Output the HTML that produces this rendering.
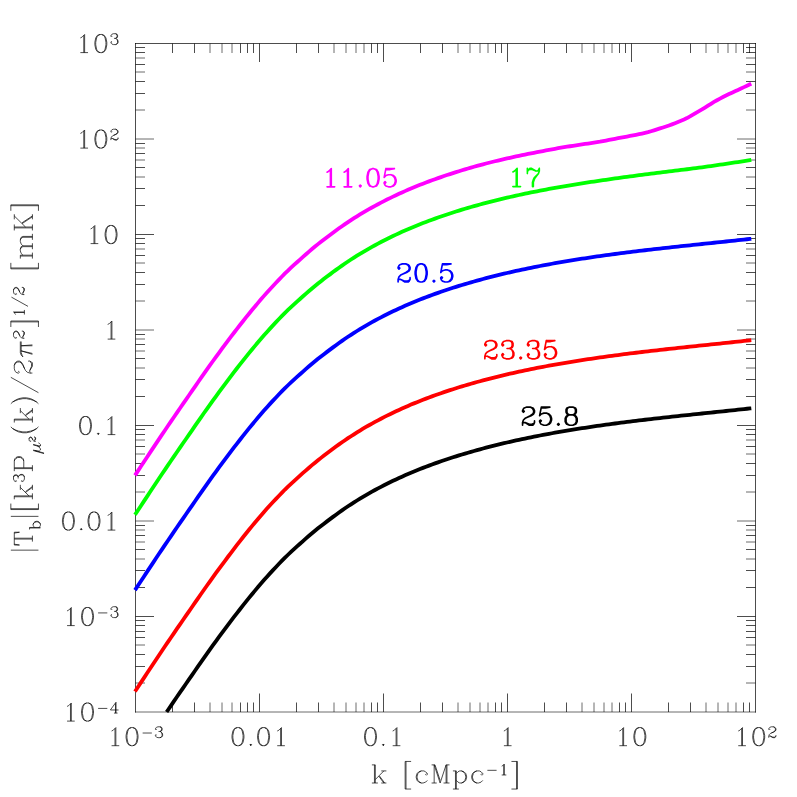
<!DOCTYPE html>
<html><head><meta charset="utf-8"><title>plot</title>
<style>html,body{margin:0;padding:0;background:#fff;font-family:"Liberation Sans",sans-serif}body{width:797px;height:797px;position:relative;overflow:hidden}</style></head>
<body>
<svg width="797" height="797" viewBox="0 0 797 797" style="position:absolute;left:0;top:0">
<rect width="797" height="797" fill="#fff"/>
<path d="M135 43.5 H756 M135.5 43 V712.5 M755.5 43 V712.5 M172.5 43.5 V53 M172.5 712 V702.5 M194.5 43.5 V53 M194.5 712 V702.5 M240.5 43.5 V53 M240.5 712 V702.5 M247.5 43.5 V53 M247.5 712 V702.5 M253.5 43.5 V53 M253.5 712 V702.5 M259.5 43.5 V62 M259.5 712 V693.5 M296.5 43.5 V53 M296.5 712 V702.5 M318.5 43.5 V53 M318.5 712 V702.5 M371.5 43.5 V53 M371.5 712 V702.5 M377.5 43.5 V53 M377.5 712 V702.5 M383.5 43.5 V62 M383.5 712 V693.5 M420.5 43.5 V53 M420.5 712 V702.5 M442.5 43.5 V53 M442.5 712 V702.5 M495.5 43.5 V53 M495.5 712 V702.5 M501.5 43.5 V53 M501.5 712 V702.5 M507.5 43.5 V62 M507.5 712 V693.5 M544.5 43.5 V53 M544.5 712 V702.5 M566.5 43.5 V53 M566.5 712 V702.5 M619.5 43.5 V53 M619.5 712 V702.5 M625.5 43.5 V53 M625.5 712 V702.5 M631.5 43.5 V62 M631.5 712 V693.5 M668.5 43.5 V53 M668.5 712 V702.5 M690.5 43.5 V53 M690.5 712 V702.5 M743.5 43.5 V53 M743.5 712 V702.5 M749.5 43.5 V53 M749.5 712 V702.5 M135.5 47.5 H145 M755.5 47.5 H746 M135.5 52.5 H145 M755.5 52.5 H746 M135.5 64.5 H145 M755.5 64.5 H746 M135.5 81.5 H145 M755.5 81.5 H746 M135.5 93.5 H145 M755.5 93.5 H746 M135.5 143.5 H145 M755.5 143.5 H746 M135.5 153.5 H145 M755.5 153.5 H746 M135.5 167.5 H145 M755.5 167.5 H746 M135.5 188.5 H145 M755.5 188.5 H746 M135.5 205.5 H145 M755.5 205.5 H746 M135.5 234.5 H154 M755.5 234.5 H737 M135.5 238.5 H145 M755.5 238.5 H746 M135.5 243.5 H145 M755.5 243.5 H746 M135.5 255.5 H145 M755.5 255.5 H746 M135.5 272.5 H145 M755.5 272.5 H746 M135.5 284.5 H145 M755.5 284.5 H746 M135.5 334.5 H145 M755.5 334.5 H746 M135.5 344.5 H145 M755.5 344.5 H746 M135.5 358.5 H145 M755.5 358.5 H746 M135.5 379.5 H145 M755.5 379.5 H746 M135.5 396.5 H145 M755.5 396.5 H746 M135.5 425.5 H154 M755.5 425.5 H737 M135.5 429.5 H145 M755.5 429.5 H746 M135.5 434.5 H145 M755.5 434.5 H746 M135.5 446.5 H145 M755.5 446.5 H746 M135.5 463.5 H145 M755.5 463.5 H746 M135.5 475.5 H145 M755.5 475.5 H746 M135.5 525.5 H145 M755.5 525.5 H746 M135.5 535.5 H145 M755.5 535.5 H746 M135.5 549.5 H145 M755.5 549.5 H746 M135.5 570.5 H145 M755.5 570.5 H746 M135.5 587.5 H145 M755.5 587.5 H746 M135.5 616.5 H154 M755.5 616.5 H737 M135.5 620.5 H145 M755.5 620.5 H746 M135.5 625.5 H145 M755.5 625.5 H746 M135.5 631.5 H145 M755.5 631.5 H746 M135.5 637.5 H145 M755.5 637.5 H746 M135.5 654.5 H145 M755.5 654.5 H746 M135.5 666.5 H145 M755.5 666.5 H746" fill="none" stroke="#000" stroke-width="0.7"/>
<path d="M135 712 H756 M210 43.5 V53 M210 712 V702.5 M222 43.5 V53 M222 712 V702.5 M232 43.5 V53 M232 712 V702.5 M334 43.5 V53 M334 712 V702.5 M346 43.5 V53 M346 712 V702.5 M356 43.5 V53 M356 712 V702.5 M364 43.5 V53 M364 712 V702.5 M458 43.5 V53 M458 712 V702.5 M470 43.5 V53 M470 712 V702.5 M480 43.5 V53 M480 712 V702.5 M488 43.5 V53 M488 712 V702.5 M582 43.5 V53 M582 712 V702.5 M594 43.5 V53 M594 712 V702.5 M604 43.5 V53 M604 712 V702.5 M612 43.5 V53 M612 712 V702.5 M706 43.5 V53 M706 712 V702.5 M718 43.5 V53 M718 712 V702.5 M728 43.5 V53 M728 712 V702.5 M736 43.5 V53 M736 712 V702.5 M135.5 58 H145 M755.5 58 H746 M135.5 72 H145 M755.5 72 H746 M135.5 110 H145 M755.5 110 H746 M135.5 139 H154 M755.5 139 H737 M135.5 148 H145 M755.5 148 H746 M135.5 160 H145 M755.5 160 H746 M135.5 177 H145 M755.5 177 H746 M135.5 249 H145 M755.5 249 H746 M135.5 263 H145 M755.5 263 H746 M135.5 301 H145 M755.5 301 H746 M135.5 330 H154 M755.5 330 H737 M135.5 339 H145 M755.5 339 H746 M135.5 351 H145 M755.5 351 H746 M135.5 368 H145 M755.5 368 H746 M135.5 440 H145 M755.5 440 H746 M135.5 454 H145 M755.5 454 H746 M135.5 492 H145 M755.5 492 H746 M135.5 521 H154 M755.5 521 H737 M135.5 530 H145 M755.5 530 H746 M135.5 542 H145 M755.5 542 H746 M135.5 559 H145 M755.5 559 H746 M135.5 645 H145 M755.5 645 H746 M135.5 683 H145 M755.5 683 H746" fill="none" stroke="#000" stroke-width="0.58"/>
<path d="M166.62 712 L168 709.97 L171 705.56 L174 701.17 L177 696.79 L180 692.42 L183 688.08 L186 683.76 L189 679.46 L192 675.11 L195 670.75 L198 666.41 L201 662.11 L204 657.83 L207 653.59 L210 649.38 L213 645.21 L216 641.07 L219 636.97 L222 632.9 L225 628.88 L228 624.86 L231 620.89 L234 616.95 L237 613.06 L240 609.21 L243 605.4 L246 601.63 L249 597.91 L252 594.25 L255 590.64 L258 587.07 L261 583.55 L264 580.07 L267 576.7 L270 573.4 L273 570.15 L276 566.95 L279 563.79 L282 560.69 L285 557.63 L288 554.75 L291 551.93 L294 549.15 L297 546.43 L300 543.76 L303 541.06 L306 538.41 L309 535.81 L312 533.27 L315 530.78 L318 528.34 L321 525.97 L324 523.64 L327 521.37 L330 519.15 L333 516.88 L336 514.66 L339 512.5 L342 510.38 L345 508.31 L348 506.29 L351 504.32 L354 502.38 L357 500.5 L360 498.65 L363 496.84 L366 495.08 L369 493.35 L372 491.67 L375 490.02 L378 488.41 L381 486.83 L384 485.28 L387 483.77 L390 482.29 L393 480.83 L396 479.41 L399 478.02 L402 476.65 L405 475.31 L408 473.99 L411 472.71 L414 471.47 L417 470.25 L420 469.05 L423 467.88 L426 466.73 L429 465.6 L432 464.5 L435 463.41 L438 462.35 L441 461.3 L444 460.27 L447 459.26 L450 458.28 L453 457.3 L456 456.35 L459 455.41 L462 454.49 L465 453.59 L468 452.7 L471 451.83 L474 450.98 L477 450.14 L480 449.31 L483 448.5 L486 447.7 L489 446.92 L492 446.15 L495 445.4 L498 444.65 L501 443.92 L504 443.21 L507 442.5 L510 441.81 L513 441.13 L516 440.46 L519 439.8 L522 439.15 L525 438.52 L528 437.89 L531 437.28 L534 436.67 L537 436.08 L540 435.49 L543 434.92 L546 434.35 L549 433.79 L552 433.25 L555 432.71 L558 432.18 L561 431.66 L564 431.14 L567 430.64 L570 430.14 L573 429.65 L576 429.17 L579 428.69 L582 428.22 L585 427.76 L588 427.31 L591 426.86 L594 426.42 L597 425.98 L600 425.56 L603 425.13 L606 424.72 L609 424.31 L612 423.9 L615 423.5 L618 423.11 L621 422.72 L624 422.33 L627 421.95 L630 421.57 L633 421.2 L636 420.84 L639 420.47 L642 420.11 L645 419.76 L648 419.41 L651 419.06 L654 418.71 L657 418.37 L660 418.03 L663 417.69 L666 417.36 L669 417.03 L672 416.7 L675 416.37 L678 416.05 L681 415.73 L684 415.41 L687 415.09 L690 414.77 L693 414.45 L696 414.13 L699 413.82 L702 413.5 L705 413.19 L708 412.88 L711 412.56 L714 412.25 L717 411.93 L720 411.62 L723 411.31 L726 410.99 L729 410.68 L732 410.36 L735 410.04 L738 409.72 L741 409.4 L744 409.08 L747 408.75 L750 408.43 L751.3 408.28" fill="none" stroke="#000" stroke-width="3.8" stroke-linejoin="round"/>
<path d="M135 691.48 L138 686.93 L141 682.39 L144 677.84 L147 673.3 L150 668.77 L153 664.24 L156 659.72 L159 655.2 L162 650.73 L165 646.3 L168 641.87 L171 637.46 L174 633.07 L177 628.69 L180 624.32 L183 619.98 L186 615.66 L189 611.36 L192 607.01 L195 602.65 L198 598.31 L201 594.01 L204 589.73 L207 585.49 L210 581.28 L213 577.11 L216 572.97 L219 568.87 L222 564.8 L225 560.78 L228 556.76 L231 552.79 L234 548.85 L237 544.96 L240 541.11 L243 537.3 L246 533.53 L249 529.81 L252 526.15 L255 522.54 L258 518.97 L261 515.45 L264 511.97 L267 508.6 L270 505.3 L273 502.05 L276 498.85 L279 495.69 L282 492.59 L285 489.53 L288 486.65 L291 483.83 L294 481.05 L297 478.33 L300 475.66 L303 472.96 L306 470.31 L309 467.71 L312 465.17 L315 462.68 L318 460.24 L321 457.87 L324 455.54 L327 453.27 L330 451.05 L333 448.78 L336 446.56 L339 444.4 L342 442.28 L345 440.21 L348 438.19 L351 436.22 L354 434.28 L357 432.4 L360 430.55 L363 428.74 L366 426.98 L369 425.25 L372 423.57 L375 421.92 L378 420.31 L381 418.73 L384 417.18 L387 415.67 L390 414.19 L393 412.73 L396 411.31 L399 409.92 L402 408.55 L405 407.21 L408 405.89 L411 404.61 L414 403.37 L417 402.15 L420 400.95 L423 399.78 L426 398.63 L429 397.5 L432 396.4 L435 395.31 L438 394.25 L441 393.2 L444 392.17 L447 391.16 L450 390.18 L453 389.2 L456 388.25 L459 387.31 L462 386.39 L465 385.49 L468 384.6 L471 383.73 L474 382.88 L477 382.04 L480 381.21 L483 380.4 L486 379.6 L489 378.82 L492 378.05 L495 377.3 L498 376.55 L501 375.82 L504 375.11 L507 374.4 L510 373.71 L513 373.03 L516 372.36 L519 371.7 L522 371.05 L525 370.42 L528 369.79 L531 369.18 L534 368.57 L537 367.98 L540 367.39 L543 366.82 L546 366.25 L549 365.69 L552 365.15 L555 364.61 L558 364.08 L561 363.56 L564 363.04 L567 362.54 L570 362.04 L573 361.55 L576 361.07 L579 360.59 L582 360.12 L585 359.66 L588 359.21 L591 358.76 L594 358.32 L597 357.88 L600 357.46 L603 357.03 L606 356.62 L609 356.21 L612 355.8 L615 355.4 L618 355.01 L621 354.62 L624 354.23 L627 353.85 L630 353.47 L633 353.1 L636 352.74 L639 352.37 L642 352.01 L645 351.66 L648 351.31 L651 350.96 L654 350.61 L657 350.27 L660 349.93 L663 349.59 L666 349.26 L669 348.93 L672 348.6 L675 348.27 L678 347.95 L681 347.63 L684 347.31 L687 346.99 L690 346.67 L693 346.35 L696 346.03 L699 345.72 L702 345.4 L705 345.09 L708 344.78 L711 344.46 L714 344.15 L717 343.83 L720 343.52 L723 343.21 L726 342.89 L729 342.58 L732 342.26 L735 341.94 L738 341.62 L741 341.3 L744 340.98 L747 340.65 L750 340.33 L751.3 340.18" fill="none" stroke="#f00" stroke-width="3.8" stroke-linejoin="round"/>
<path d="M135 590.08 L138 585.53 L141 580.99 L144 576.44 L147 571.9 L150 567.37 L153 562.84 L156 558.32 L159 553.8 L162 549.33 L165 544.9 L168 540.47 L171 536.06 L174 531.67 L177 527.29 L180 522.92 L183 518.58 L186 514.26 L189 509.96 L192 505.61 L195 501.25 L198 496.91 L201 492.61 L204 488.33 L207 484.09 L210 479.88 L213 475.71 L216 471.57 L219 467.47 L222 463.4 L225 459.38 L228 455.36 L231 451.39 L234 447.45 L237 443.56 L240 439.71 L243 435.9 L246 432.13 L249 428.41 L252 424.75 L255 421.14 L258 417.57 L261 414.05 L264 410.57 L267 407.2 L270 403.9 L273 400.65 L276 397.45 L279 394.29 L282 391.19 L285 388.13 L288 385.25 L291 382.43 L294 379.65 L297 376.93 L300 374.26 L303 371.56 L306 368.91 L309 366.31 L312 363.77 L315 361.28 L318 358.84 L321 356.47 L324 354.14 L327 351.87 L330 349.65 L333 347.38 L336 345.16 L339 343 L342 340.88 L345 338.81 L348 336.79 L351 334.82 L354 332.88 L357 331 L360 329.15 L363 327.34 L366 325.58 L369 323.85 L372 322.17 L375 320.52 L378 318.91 L381 317.33 L384 315.78 L387 314.27 L390 312.79 L393 311.33 L396 309.91 L399 308.52 L402 307.15 L405 305.81 L408 304.49 L411 303.21 L414 301.97 L417 300.75 L420 299.55 L423 298.38 L426 297.23 L429 296.1 L432 295 L435 293.91 L438 292.85 L441 291.8 L444 290.77 L447 289.76 L450 288.78 L453 287.8 L456 286.85 L459 285.91 L462 284.99 L465 284.09 L468 283.2 L471 282.33 L474 281.48 L477 280.64 L480 279.81 L483 279 L486 278.2 L489 277.42 L492 276.65 L495 275.9 L498 275.15 L501 274.42 L504 273.71 L507 273 L510 272.31 L513 271.63 L516 270.96 L519 270.3 L522 269.65 L525 269.02 L528 268.39 L531 267.78 L534 267.17 L537 266.58 L540 265.99 L543 265.42 L546 264.85 L549 264.29 L552 263.75 L555 263.21 L558 262.68 L561 262.16 L564 261.64 L567 261.14 L570 260.64 L573 260.15 L576 259.67 L579 259.19 L582 258.72 L585 258.26 L588 257.81 L591 257.36 L594 256.92 L597 256.48 L600 256.06 L603 255.63 L606 255.22 L609 254.81 L612 254.4 L615 254 L618 253.61 L621 253.22 L624 252.83 L627 252.45 L630 252.07 L633 251.7 L636 251.34 L639 250.97 L642 250.61 L645 250.26 L648 249.91 L651 249.56 L654 249.21 L657 248.87 L660 248.53 L663 248.19 L666 247.86 L669 247.53 L672 247.2 L675 246.87 L678 246.55 L681 246.23 L684 245.91 L687 245.59 L690 245.27 L693 244.95 L696 244.63 L699 244.32 L702 244 L705 243.69 L708 243.38 L711 243.06 L714 242.75 L717 242.43 L720 242.12 L723 241.81 L726 241.49 L729 241.18 L732 240.86 L735 240.54 L738 240.22 L741 239.9 L744 239.58 L747 239.25 L750 238.93 L751.3 238.78" fill="none" stroke="#00f" stroke-width="3.8" stroke-linejoin="round"/>
<path d="M135 514.78 L138 510.23 L141 505.69 L144 501.14 L147 496.6 L150 492.07 L153 487.54 L156 483.02 L159 478.5 L162 474.03 L165 469.6 L168 465.17 L171 460.76 L174 456.37 L177 451.99 L180 447.62 L183 443.28 L186 438.96 L189 434.66 L192 430.31 L195 425.95 L198 421.61 L201 417.31 L204 413.03 L207 408.79 L210 404.58 L213 400.41 L216 396.27 L219 392.17 L222 388.1 L225 384.08 L228 380.06 L231 376.09 L234 372.15 L237 368.26 L240 364.41 L243 360.6 L246 356.83 L249 353.11 L252 349.45 L255 345.84 L258 342.27 L261 338.75 L264 335.27 L267 331.9 L270 328.6 L273 325.35 L276 322.15 L279 318.99 L282 315.89 L285 312.83 L288 309.95 L291 307.13 L294 304.35 L297 301.63 L300 298.96 L303 296.26 L306 293.61 L309 291.01 L312 288.47 L315 285.98 L318 283.54 L321 281.17 L324 278.84 L327 276.57 L330 274.35 L333 272.08 L336 269.86 L339 267.7 L342 265.58 L345 263.51 L348 261.49 L351 259.52 L354 257.58 L357 255.7 L360 253.85 L363 252.04 L366 250.28 L369 248.55 L372 246.87 L375 245.22 L378 243.61 L381 242.03 L384 240.48 L387 238.97 L390 237.49 L393 236.03 L396 234.61 L399 233.22 L402 231.85 L405 230.51 L408 229.19 L411 227.91 L414 226.67 L417 225.45 L420 224.25 L423 223.08 L426 221.93 L429 220.8 L432 219.7 L435 218.61 L438 217.55 L441 216.5 L444 215.47 L447 214.46 L450 213.48 L453 212.5 L456 211.55 L459 210.61 L462 209.69 L465 208.79 L468 207.9 L471 207.03 L474 206.18 L477 205.34 L480 204.51 L483 203.7 L486 202.9 L489 202.12 L492 201.35 L495 200.6 L498 199.85 L501 199.12 L504 198.41 L507 197.7 L510 197.01 L513 196.33 L516 195.66 L519 195 L522 194.35 L525 193.72 L528 193.09 L531 192.48 L534 191.87 L537 191.28 L540 190.69 L543 190.12 L546 189.55 L549 188.99 L552 188.45 L555 187.91 L558 187.38 L561 186.86 L564 186.34 L567 185.83 L570 185.33 L573 184.84 L576 184.35 L579 183.86 L582 183.39 L585 182.92 L588 182.45 L591 181.99 L594 181.53 L597 181.08 L600 180.64 L603 180.2 L606 179.76 L609 179.33 L612 178.91 L615 178.48 L618 178.07 L621 177.65 L624 177.24 L627 176.84 L630 176.43 L633 176.03 L636 175.64 L639 175.24 L642 174.85 L645 174.46 L648 174.08 L651 173.7 L654 173.32 L657 172.94 L660 172.56 L663 172.19 L666 171.82 L669 171.45 L672 171.08 L675 170.71 L678 170.35 L681 169.98 L684 169.62 L687 169.25 L690 168.88 L693 168.49 L696 168.09 L699 167.68 L702 167.27 L705 166.85 L708 166.43 L711 166.01 L714 165.58 L717 165.16 L720 164.73 L723 164.3 L726 163.85 L729 163.41 L732 162.95 L735 162.49 L738 162.03 L741 161.55 L744 161.07 L747 160.59 L750 160.1 L751.3 159.88" fill="none" stroke="#0f0" stroke-width="3.8" stroke-linejoin="round"/>
<path d="M135 475.38 L138 470.83 L141 466.29 L144 461.74 L147 457.2 L150 452.67 L153 448.14 L156 443.62 L159 439.1 L162 434.63 L165 430.2 L168 425.77 L171 421.36 L174 416.97 L177 412.59 L180 408.22 L183 403.88 L186 399.56 L189 395.26 L192 390.91 L195 386.55 L198 382.21 L201 377.91 L204 373.63 L207 369.39 L210 365.18 L213 361.01 L216 356.87 L219 352.77 L222 348.7 L225 344.68 L228 340.66 L231 336.69 L234 332.75 L237 328.86 L240 325.01 L243 321.2 L246 317.43 L249 313.71 L252 310.05 L255 306.44 L258 302.87 L261 299.35 L264 295.87 L267 292.5 L270 289.2 L273 285.95 L276 282.75 L279 279.59 L282 276.49 L285 273.43 L288 270.55 L291 267.73 L294 264.95 L297 262.23 L300 259.56 L303 256.86 L306 254.21 L309 251.61 L312 249.07 L315 246.58 L318 244.14 L321 241.77 L324 239.44 L327 237.17 L330 234.95 L333 232.68 L336 230.46 L339 228.3 L342 226.18 L345 224.11 L348 222.09 L351 220.12 L354 218.18 L357 216.3 L360 214.45 L363 212.64 L366 210.88 L369 209.15 L372 207.47 L375 205.82 L378 204.21 L381 202.63 L384 201.08 L387 199.57 L390 198.09 L393 196.63 L396 195.21 L399 193.82 L402 192.45 L405 191.11 L408 189.79 L411 188.51 L414 187.27 L417 186.05 L420 184.85 L423 183.68 L426 182.53 L429 181.4 L432 180.3 L435 179.21 L438 178.15 L441 177.1 L444 176.07 L447 175.06 L450 174.08 L453 173.1 L456 172.15 L459 171.21 L462 170.29 L465 169.39 L468 168.5 L471 167.63 L474 166.78 L477 165.94 L480 165.11 L483 164.3 L486 163.51 L489 162.74 L492 161.99 L495 161.25 L498 160.53 L501 159.82 L504 159.13 L507 158.45 L510 157.78 L513 157.12 L516 156.48 L519 155.84 L522 155.21 L525 154.59 L528 153.98 L531 153.37 L534 152.77 L537 152.18 L540 151.59 L543 151.01 L546 150.44 L549 149.87 L552 149.31 L555 148.76 L558 148.21 L561 147.68 L564 147.2 L567 146.72 L570 146.25 L573 145.78 L576 145.32 L579 144.86 L582 144.41 L585 143.96 L588 143.54 L591 143.1 L594 142.64 L597 142.18 L600 141.7 L603 141.11 L606 140.52 L609 139.94 L612 139.36 L615 138.79 L618 138.22 L621 137.64 L624 137.06 L627 136.52 L630 135.98 L633 135.41 L636 134.83 L639 134.2 L642 133.54 L645 132.83 L648 132.09 L651 131.21 L654 130.31 L657 129.38 L660 128.43 L663 127.5 L666 126.52 L669 125.48 L672 124.39 L675 123.25 L678 122.06 L681 120.82 L684 119.53 L687 118.07 L690 116.44 L693 114.68 L696 112.85 L699 111.17 L702 109.46 L705 107.61 L708 105.7 L711 103.78 L714 101.95 L717 100.25 L720 98.61 L723 97.03 L726 95.51 L729 94.07 L732 92.67 L735 91.3 L738 89.94 L741 88.54 L744 87.13 L747 85.72 L750 84.3 L751.3 83.68" fill="none" stroke="#f0f" stroke-width="3.8" stroke-linejoin="round"/>
<path d="M80.36 37.94 L82.07 37.08 L84.63 34.49 L84.63 52.6 M83.77 35.35 L83.77 52.6 M80.36 52.6 L88.04 52.6 M99.98 34.49 L97.42 35.35 L95.72 37.94 L94.86 42.25 L94.86 44.84 L95.72 49.15 L97.42 51.74 L99.98 52.6 L101.69 52.6 L104.25 51.74 L105.95 49.15 L106.8 44.84 L106.8 42.25 L105.95 37.94 L104.25 35.35 L101.69 34.49 L99.98 34.49 M99.98 34.49 L98.27 35.35 L97.42 36.21 L96.57 37.94 L95.72 42.25 L95.72 44.84 L96.57 49.15 L97.42 50.88 L98.27 51.74 L99.98 52.6 M101.69 52.6 L103.39 51.74 L104.25 50.88 L105.1 49.15 L105.95 44.84 L105.95 42.25 L105.1 37.94 L104.25 36.21 L103.39 35.35 L101.69 34.49 M111.41 35.78 L111.92 36.3 L111.41 36.82 L110.9 36.3 L110.9 35.78 L111.41 34.75 L111.92 34.23 L113.46 33.71 L115.51 33.71 L117.04 34.23 L117.55 35.26 L117.55 36.82 L117.04 37.85 L115.51 38.37 L113.97 38.37 M115.51 33.71 L116.53 34.23 L117.04 35.26 L117.04 36.82 L116.53 37.85 L115.51 38.37 M115.51 38.37 L116.53 38.89 L117.55 39.92 L118.06 40.96 L118.06 42.51 L117.55 43.54 L117.04 44.06 L115.51 44.58 L113.46 44.58 L111.92 44.06 L111.41 43.54 L110.9 42.51 L110.9 41.99 L111.41 41.47 L111.92 41.99 L111.41 42.51 M117.04 39.4 L117.55 40.96 L117.55 42.51 L117.04 43.54 L116.53 44.06 L115.51 44.58 M80.36 133.44 L82.07 132.57 L84.63 129.99 L84.63 148.1 M83.77 130.85 L83.77 148.1 M80.36 148.1 L88.04 148.1 M99.98 129.99 L97.42 130.85 L95.72 133.44 L94.86 137.75 L94.86 140.34 L95.72 144.65 L97.42 147.24 L99.98 148.1 L101.69 148.1 L104.25 147.24 L105.95 144.65 L106.8 140.34 L106.8 137.75 L105.95 133.44 L104.25 130.85 L101.69 129.99 L99.98 129.99 M99.98 129.99 L98.27 130.85 L97.42 131.71 L96.57 133.44 L95.72 137.75 L95.72 140.34 L96.57 144.65 L97.42 146.38 L98.27 147.24 L99.98 148.1 M101.69 148.1 L103.39 147.24 L104.25 146.38 L105.1 144.65 L105.95 140.34 L105.95 137.75 L105.1 133.44 L104.25 131.71 L103.39 130.85 L101.69 129.99 M111.41 131.28 L111.92 131.8 L111.41 132.32 L110.9 131.8 L110.9 131.28 L111.41 130.25 L111.92 129.73 L113.46 129.21 L115.51 129.21 L117.04 129.73 L117.55 130.25 L118.06 131.28 L118.06 132.32 L117.55 133.35 L116.02 134.39 L113.46 135.42 L112.43 135.94 L111.41 136.97 L110.9 138.53 L110.9 140.08 M115.51 129.21 L116.53 129.73 L117.04 130.25 L117.55 131.28 L117.55 132.32 L117.04 133.35 L115.51 134.39 L113.46 135.42 M110.9 139.04 L111.41 138.53 L112.43 138.53 L114.99 139.56 L116.53 139.56 L117.55 139.04 L118.06 138.53 M112.43 138.53 L114.99 140.08 L117.04 140.08 L117.55 139.56 L118.06 138.53 L118.06 137.49 M90.6 228.94 L92.3 228.07 L94.86 225.49 L94.86 243.6 M94.01 226.35 L94.01 243.6 M90.6 243.6 L98.27 243.6 M110.22 225.49 L107.66 226.35 L105.95 228.94 L105.1 233.25 L105.1 235.84 L105.95 240.15 L107.66 242.74 L110.22 243.6 L111.92 243.6 L114.48 242.74 L116.19 240.15 L117.04 235.84 L117.04 233.25 L116.19 228.94 L114.48 226.35 L111.92 225.49 L110.22 225.49 M110.22 225.49 L108.51 226.35 L107.66 227.21 L106.8 228.94 L105.95 233.25 L105.95 235.84 L106.8 240.15 L107.66 241.88 L108.51 242.74 L110.22 243.6 M111.92 243.6 L113.63 242.74 L114.48 241.88 L115.33 240.15 L116.19 235.84 L116.19 233.25 L115.33 228.94 L114.48 227.21 L113.63 226.35 L111.92 225.49 M107.66 324.44 L109.36 323.58 L111.92 320.99 L111.92 339.1 M111.07 321.85 L111.07 339.1 M107.66 339.1 L115.33 339.1 M84.63 416.49 L82.07 417.35 L80.36 419.94 L79.51 424.25 L79.51 426.84 L80.36 431.15 L82.07 433.74 L84.63 434.6 L86.33 434.6 L88.89 433.74 L90.6 431.15 L91.45 426.84 L91.45 424.25 L90.6 419.94 L88.89 417.35 L86.33 416.49 L84.63 416.49 M84.63 416.49 L82.92 417.35 L82.07 418.21 L81.22 419.94 L80.36 424.25 L80.36 426.84 L81.22 431.15 L82.07 432.88 L82.92 433.74 L84.63 434.6 M86.33 434.6 L88.04 433.74 L88.89 432.88 L89.74 431.15 L90.6 426.84 L90.6 424.25 L89.74 419.94 L88.89 418.21 L88.04 417.35 L86.33 416.49 M107.66 419.94 L109.36 419.08 L111.92 416.49 L111.92 434.6 M111.07 417.35 L111.07 434.6 M107.66 434.6 L115.33 434.6 M67.57 511.99 L65.01 512.85 L63.3 515.44 L62.45 519.75 L62.45 522.34 L63.3 526.65 L65.01 529.24 L67.57 530.1 L69.27 530.1 L71.83 529.24 L73.54 526.65 L74.39 522.34 L74.39 519.75 L73.54 515.44 L71.83 512.85 L69.27 511.99 L67.57 511.99 M67.57 511.99 L65.86 512.85 L65.01 513.71 L64.16 515.44 L63.3 519.75 L63.3 522.34 L64.16 526.65 L65.01 528.38 L65.86 529.24 L67.57 530.1 M69.27 530.1 L70.98 529.24 L71.83 528.38 L72.69 526.65 L73.54 522.34 L73.54 519.75 L72.69 515.44 L71.83 513.71 L70.98 512.85 L69.27 511.99 M93.16 511.99 L90.6 512.85 L88.89 515.44 L88.04 519.75 L88.04 522.34 L88.89 526.65 L90.6 529.24 L93.16 530.1 L94.86 530.1 L97.42 529.24 L99.13 526.65 L99.98 522.34 L99.98 519.75 L99.13 515.44 L97.42 512.85 L94.86 511.99 L93.16 511.99 M93.16 511.99 L91.45 512.85 L90.6 513.71 L89.74 515.44 L88.89 519.75 L88.89 522.34 L89.74 526.65 L90.6 528.38 L91.45 529.24 L93.16 530.1 M94.86 530.1 L96.57 529.24 L97.42 528.38 L98.27 526.65 L99.13 522.34 L99.13 519.75 L98.27 515.44 L97.42 513.71 L96.57 512.85 L94.86 511.99 M107.66 515.44 L109.36 514.58 L111.92 511.99 L111.92 530.1 M111.07 512.85 L111.07 530.1 M107.66 530.1 L115.33 530.1 M67.06 610.94 L68.76 610.08 L71.32 607.49 L71.32 625.6 M70.47 608.35 L70.47 625.6 M67.06 625.6 L74.73 625.6 M86.67 607.49 L84.12 608.35 L82.41 610.94 L81.56 615.25 L81.56 617.84 L82.41 622.15 L84.12 624.74 L86.67 625.6 L88.38 625.6 L90.94 624.74 L92.65 622.15 L93.5 617.84 L93.5 615.25 L92.65 610.94 L90.94 608.35 L88.38 607.49 L86.67 607.49 M86.67 607.49 L84.97 608.35 L84.12 609.21 L83.26 610.94 L82.41 615.25 L82.41 617.84 L83.26 622.15 L84.12 623.88 L84.97 624.74 L86.67 625.6 M88.38 625.6 L90.09 624.74 L90.94 623.88 L91.79 622.15 L92.65 617.84 L92.65 615.25 L91.79 610.94 L90.94 609.21 L90.09 608.35 L88.38 607.49 M98.1 612.92 L107.32 612.92 M111.41 608.78 L111.92 609.3 L111.41 609.82 L110.9 609.3 L110.9 608.78 L111.41 607.75 L111.92 607.23 L113.46 606.71 L115.51 606.71 L117.04 607.23 L117.55 608.26 L117.55 609.82 L117.04 610.85 L115.51 611.37 L113.97 611.37 M115.51 606.71 L116.53 607.23 L117.04 608.26 L117.04 609.82 L116.53 610.85 L115.51 611.37 M115.51 611.37 L116.53 611.89 L117.55 612.92 L118.06 613.96 L118.06 615.51 L117.55 616.54 L117.04 617.06 L115.51 617.58 L113.46 617.58 L111.92 617.06 L111.41 616.54 L110.9 615.51 L110.9 614.99 L111.41 614.47 L111.92 614.99 L111.41 615.51 M117.04 612.4 L117.55 613.96 L117.55 615.51 L117.04 616.54 L116.53 617.06 L115.51 617.58 M67.06 706.44 L68.76 705.58 L71.32 702.99 L71.32 721.1 M70.47 703.85 L70.47 721.1 M67.06 721.1 L74.73 721.1 M86.67 702.99 L84.12 703.85 L82.41 706.44 L81.56 710.75 L81.56 713.34 L82.41 717.65 L84.12 720.24 L86.67 721.1 L88.38 721.1 L90.94 720.24 L92.65 717.65 L93.5 713.34 L93.5 710.75 L92.65 706.44 L90.94 703.85 L88.38 702.99 L86.67 702.99 M86.67 702.99 L84.97 703.85 L84.12 704.71 L83.26 706.44 L82.41 710.75 L82.41 713.34 L83.26 717.65 L84.12 719.38 L84.97 720.24 L86.67 721.1 M88.38 721.1 L90.09 720.24 L90.94 719.38 L91.79 717.65 L92.65 713.34 L92.65 710.75 L91.79 706.44 L90.94 704.71 L90.09 703.85 L88.38 702.99 M98.1 708.42 L107.32 708.42 M115.51 703.25 L115.51 713.08 M116.02 702.21 L116.02 713.08 M116.02 702.21 L110.39 709.97 L118.58 709.97 M113.97 713.08 L117.55 713.08 M111.59 731.04 L113.29 730.18 L115.85 727.59 L115.85 745.7 M115 728.45 L115 745.7 M111.59 745.7 L119.26 745.7 M131.21 727.59 L128.65 728.45 L126.94 731.04 L126.09 735.35 L126.09 737.94 L126.94 742.25 L128.65 744.84 L131.21 745.7 L132.91 745.7 L135.47 744.84 L137.18 742.25 L138.03 737.94 L138.03 735.35 L137.18 731.04 L135.47 728.45 L132.91 727.59 L131.21 727.59 M131.21 727.59 L129.5 728.45 L128.65 729.31 L127.79 731.04 L126.94 735.35 L126.94 737.94 L127.79 742.25 L128.65 743.98 L129.5 744.84 L131.21 745.7 M132.91 745.7 L134.62 744.84 L135.47 743.98 L136.32 742.25 L137.18 737.94 L137.18 735.35 L136.32 731.04 L135.47 729.31 L134.62 728.45 L132.91 727.59 M142.64 733.02 L151.85 733.02 M155.94 728.88 L156.45 729.4 L155.94 729.92 L155.43 729.4 L155.43 728.88 L155.94 727.85 L156.45 727.33 L157.99 726.81 L160.04 726.81 L161.57 727.33 L162.08 728.36 L162.08 729.92 L161.57 730.95 L160.04 731.47 L158.5 731.47 M160.04 726.81 L161.06 727.33 L161.57 728.36 L161.57 729.92 L161.06 730.95 L160.04 731.47 M160.04 731.47 L161.06 731.99 L162.08 733.02 L162.6 734.06 L162.6 735.61 L162.08 736.64 L161.57 737.16 L160.04 737.68 L157.99 737.68 L156.45 737.16 L155.94 736.64 L155.43 735.61 L155.43 735.09 L155.94 734.57 L156.45 735.09 L155.94 735.61 M161.57 732.5 L162.08 734.06 L162.08 735.61 L161.57 736.64 L161.06 737.16 L160.04 737.68 M237.12 727.59 L234.56 728.45 L232.86 731.04 L232 735.35 L232 737.94 L232.86 742.25 L234.56 744.84 L237.12 745.7 L238.83 745.7 L241.39 744.84 L243.09 742.25 L243.95 737.94 L243.95 735.35 L243.09 731.04 L241.39 728.45 L238.83 727.59 L237.12 727.59 M237.12 727.59 L235.42 728.45 L234.56 729.31 L233.71 731.04 L232.86 735.35 L232.86 737.94 L233.71 742.25 L234.56 743.98 L235.42 744.84 L237.12 745.7 M238.83 745.7 L240.53 744.84 L241.39 743.98 L242.24 742.25 L243.09 737.94 L243.09 735.35 L242.24 731.04 L241.39 729.31 L240.53 728.45 L238.83 727.59 M262.71 727.59 L260.15 728.45 L258.45 731.04 L257.59 735.35 L257.59 737.94 L258.45 742.25 L260.15 744.84 L262.71 745.7 L264.42 745.7 L266.98 744.84 L268.68 742.25 L269.54 737.94 L269.54 735.35 L268.68 731.04 L266.98 728.45 L264.42 727.59 L262.71 727.59 M262.71 727.59 L261.01 728.45 L260.15 729.31 L259.3 731.04 L258.45 735.35 L258.45 737.94 L259.3 742.25 L260.15 743.98 L261.01 744.84 L262.71 745.7 M264.42 745.7 L266.12 744.84 L266.98 743.98 L267.83 742.25 L268.68 737.94 L268.68 735.35 L267.83 731.04 L266.98 729.31 L266.12 728.45 L264.42 727.59 M277.21 731.04 L278.92 730.18 L281.48 727.59 L281.48 745.7 M280.62 728.45 L280.62 745.7 M277.21 745.7 L284.89 745.7 M369.65 727.59 L367.09 728.45 L365.39 731.04 L364.53 735.35 L364.53 737.94 L365.39 742.25 L367.09 744.84 L369.65 745.7 L371.36 745.7 L373.92 744.84 L375.62 742.25 L376.48 737.94 L376.48 735.35 L375.62 731.04 L373.92 728.45 L371.36 727.59 L369.65 727.59 M369.65 727.59 L367.95 728.45 L367.09 729.31 L366.24 731.04 L365.39 735.35 L365.39 737.94 L366.24 742.25 L367.09 743.98 L367.95 744.84 L369.65 745.7 M371.36 745.7 L373.06 744.84 L373.92 743.98 L374.77 742.25 L375.62 737.94 L375.62 735.35 L374.77 731.04 L373.92 729.31 L373.06 728.45 L371.36 727.59 M392.68 731.04 L394.39 730.18 L396.95 727.59 L396.95 745.7 M396.1 728.45 L396.1 745.7 M392.68 745.7 L400.36 745.7 M503.89 731.04 L505.59 730.18 L508.15 727.59 L508.15 745.7 M507.3 728.45 L507.3 745.7 M503.89 745.7 L511.56 745.7 M619.36 731.04 L621.06 730.18 L623.62 727.59 L623.62 745.7 M622.77 728.45 L622.77 745.7 M619.36 745.7 L627.03 745.7 M638.98 727.59 L636.42 728.45 L634.71 731.04 L633.86 735.35 L633.86 737.94 L634.71 742.25 L636.42 744.84 L638.98 745.7 L640.68 745.7 L643.24 744.84 L644.95 742.25 L645.8 737.94 L645.8 735.35 L644.95 731.04 L643.24 728.45 L640.68 727.59 L638.98 727.59 M638.98 727.59 L637.27 728.45 L636.42 729.31 L635.56 731.04 L634.71 735.35 L634.71 737.94 L635.56 742.25 L636.42 743.98 L637.27 744.84 L638.98 745.7 M640.68 745.7 L642.39 744.84 L643.24 743.98 L644.09 742.25 L644.95 737.94 L644.95 735.35 L644.09 731.04 L643.24 729.31 L642.39 728.45 L640.68 727.59 M738.24 731.04 L739.95 730.18 L742.5 727.59 L742.5 745.7 M741.65 728.45 L741.65 745.7 M738.24 745.7 L745.92 745.7 M757.86 727.59 L755.3 728.45 L753.59 731.04 L752.74 735.35 L752.74 737.94 L753.59 742.25 L755.3 744.84 L757.86 745.7 L759.56 745.7 L762.12 744.84 L763.83 742.25 L764.68 737.94 L764.68 735.35 L763.83 731.04 L762.12 728.45 L759.56 727.59 L757.86 727.59 M757.86 727.59 L756.15 728.45 L755.3 729.31 L754.45 731.04 L753.59 735.35 L753.59 737.94 L754.45 742.25 L755.3 743.98 L756.15 744.84 L757.86 745.7 M759.56 745.7 L761.27 744.84 L762.12 743.98 L762.98 742.25 L763.83 737.94 L763.83 735.35 L762.98 731.04 L762.12 729.31 L761.27 728.45 L759.56 727.59 M769.29 728.88 L769.8 729.4 L769.29 729.92 L768.78 729.4 L768.78 728.88 L769.29 727.85 L769.8 727.33 L771.34 726.81 L773.38 726.81 L774.92 727.33 L775.43 727.85 L775.94 728.88 L775.94 729.92 L775.43 730.95 L773.9 731.99 L771.34 733.02 L770.31 733.54 L769.29 734.57 L768.78 736.13 L768.78 737.68 M773.38 726.81 L774.41 727.33 L774.92 727.85 L775.43 728.88 L775.43 729.92 L774.92 730.95 L773.38 731.99 L771.34 733.02 M768.78 736.64 L769.29 736.13 L770.31 736.13 L772.87 737.16 L774.41 737.16 L775.43 736.64 L775.94 736.13 M770.31 736.13 L772.87 737.68 L774.92 737.68 L775.43 737.16 L775.94 736.13 L775.94 735.09 M374.45 764.89 L374.45 783 M375.3 764.89 L375.3 783 M383.83 770.92 L375.3 779.55 M379.56 776.1 L384.68 783 M378.71 776.1 L383.83 783 M371.89 764.89 L375.3 764.89 M381.27 770.92 L386.39 770.92 M371.89 783 L377.86 783 M381.27 783 L386.39 783 M405.15 761.44 L405.15 789.04 M406.01 761.44 L406.01 789.04 M405.15 761.44 L411.12 761.44 M405.15 789.04 L411.12 789.04 M426.48 773.51 L425.63 774.38 L426.48 775.24 L427.33 774.38 L427.33 773.51 L425.63 771.79 L423.92 770.92 L421.36 770.92 L418.8 771.79 L417.1 773.51 L416.24 776.1 L416.24 777.83 L417.1 780.41 L418.8 782.14 L421.36 783 L423.07 783 L425.63 782.14 L427.33 780.41 M421.36 770.92 L419.65 771.79 L417.95 773.51 L417.1 776.1 L417.1 777.83 L417.95 780.41 L419.65 782.14 L421.36 783 M434.16 764.89 L434.16 783 M435.01 764.89 L440.13 780.41 M434.16 764.89 L440.13 783 M446.1 764.89 L440.13 783 M446.1 764.89 L446.1 783 M446.95 764.89 L446.95 783 M431.6 764.89 L435.01 764.89 M446.1 764.89 L449.51 764.89 M431.6 783 L436.71 783 M443.54 783 L449.51 783 M455.48 770.92 L455.48 789.04 M456.33 770.92 L456.33 789.04 M456.33 773.51 L458.04 771.79 L459.75 770.92 L461.45 770.92 L464.01 771.79 L465.72 773.51 L466.57 776.1 L466.57 777.83 L465.72 780.41 L464.01 782.14 L461.45 783 L459.75 783 L458.04 782.14 L456.33 780.41 M461.45 770.92 L463.16 771.79 L464.86 773.51 L465.72 776.1 L465.72 777.83 L464.86 780.41 L463.16 782.14 L461.45 783 M452.92 770.92 L456.33 770.92 M452.92 789.04 L458.89 789.04 M481.92 773.51 L481.07 774.38 L481.92 775.24 L482.78 774.38 L482.78 773.51 L481.07 771.79 L479.36 770.92 L476.81 770.92 L474.25 771.79 L472.54 773.51 L471.69 776.1 L471.69 777.83 L472.54 780.41 L474.25 782.14 L476.81 783 L478.51 783 L481.07 782.14 L482.78 780.41 M476.81 770.92 L475.1 771.79 L473.39 773.51 L472.54 776.1 L472.54 777.83 L473.39 780.41 L475.1 782.14 L476.81 783 M487.38 770.32 L496.59 770.32 M501.71 766.18 L502.74 765.66 L504.27 764.11 L504.27 774.98 M503.76 764.63 L503.76 774.98 M501.71 774.98 L506.32 774.98 M516.55 761.44 L516.55 789.04 M517.41 761.44 L517.41 789.04 M511.44 761.44 L517.41 761.44 M511.44 789.04 L517.41 789.04 M10.84 550.15 L38.44 550.15 M14.29 539.06 L32.4 539.06 M14.29 538.21 L32.4 538.21 M14.29 544.18 L19.46 545.03 L14.29 545.03 L14.29 532.23 L19.46 532.23 L14.29 533.09 M32.4 541.62 L32.4 535.65 M29.55 527.97 L40.42 527.97 M29.55 527.46 L40.42 527.46 M34.73 527.46 L33.69 526.43 L33.18 525.41 L33.18 524.39 L33.69 522.85 L34.73 521.83 L36.28 521.32 L37.32 521.32 L38.87 521.83 L39.9 522.85 L40.42 524.39 L40.42 525.41 L39.9 526.43 L38.87 527.46 M33.18 524.39 L33.69 523.36 L34.73 522.34 L36.28 521.83 L37.32 521.83 L38.87 522.34 L39.9 523.36 L40.42 524.39 M29.55 529.5 L29.55 527.46 M10.84 516.37 L38.44 516.37 M10.84 509.54 L38.44 509.54 M10.84 508.69 L38.44 508.69 M10.84 509.54 L10.84 503.57 M38.44 509.54 L38.44 503.57 M14.29 496.75 L32.4 496.75 M14.29 495.9 L32.4 495.9 M20.32 487.37 L28.95 495.9 M25.5 491.63 L32.4 486.51 M25.5 492.48 L32.4 487.37 M14.29 499.31 L14.29 495.9 M20.32 489.93 L20.32 484.81 M32.4 499.31 L32.4 493.34 M32.4 489.93 L32.4 484.81 M15.58 481.05 L16.1 480.54 L16.62 481.05 L16.1 481.57 L15.58 481.57 L14.55 481.05 L14.03 480.54 L13.51 479.01 L13.51 476.96 L14.03 475.42 L15.06 474.91 L16.62 474.91 L17.65 475.42 L18.17 476.96 L18.17 478.5 M13.51 476.96 L14.03 475.94 L15.06 475.42 L16.62 475.42 L17.65 475.94 L18.17 476.96 M18.17 476.96 L18.69 475.94 L19.72 474.91 L20.76 474.4 L22.31 474.4 L23.34 474.91 L23.86 475.42 L24.38 476.96 L24.38 479.01 L23.86 480.54 L23.34 481.05 L22.31 481.57 L21.79 481.57 L21.27 481.05 L21.79 480.54 L22.31 481.05 M19.2 475.42 L20.76 474.91 L22.31 474.91 L23.34 475.42 L23.86 475.94 L24.38 476.96 M14.29 468.6 L32.4 468.6 M14.29 467.75 L32.4 467.75 M14.29 471.16 L14.29 460.92 L15.15 458.36 L16.01 457.51 L17.74 456.66 L20.32 456.66 L22.05 457.51 L22.91 458.36 L23.77 460.92 L23.77 467.75 M14.29 460.92 L15.15 459.22 L16.01 458.36 L17.74 457.51 L20.32 457.51 L22.05 458.36 L22.91 459.22 L23.77 460.92 M32.4 471.16 L32.4 465.19 M33.18 450.52 L44.04 453.59 M33.18 450 L44.04 453.08 M34.73 450.52 L37.83 451.03 L39.39 451.03 L40.42 450 L40.42 448.98 L39.9 447.96 L38.87 446.93 L37.32 445.91 M33.18 444.89 L38.87 446.42 L39.9 446.42 L40.42 445.91 L40.42 444.38 L39.39 443.35 L38.35 442.84 M33.18 444.38 L38.87 445.91 L39.9 445.91 L40.42 445.4 M30.33 441.1 L30.64 440.79 L30.95 441.1 L30.64 441.41 L30.33 441.41 L29.71 441.1 L29.4 440.79 L29.09 439.87 L29.09 438.64 L29.4 437.72 L29.71 437.41 L30.33 437.11 L30.95 437.11 L31.57 437.41 L32.19 438.34 L32.81 439.87 L33.12 440.49 L33.75 441.1 L34.68 441.41 L35.61 441.41 M29.09 438.64 L29.4 438.03 L29.71 437.72 L30.33 437.41 L30.95 437.41 L31.57 437.72 L32.19 438.64 L32.81 439.87 M34.99 441.41 L34.68 441.1 L34.68 440.49 L35.3 438.95 L35.3 438.03 L34.99 437.41 L34.68 437.11 M34.68 440.49 L35.61 438.95 L35.61 437.72 L35.3 437.41 L34.68 437.11 L34.06 437.11 M10.84 426.8 L12.56 428.51 L15.15 430.22 L18.6 431.92 L22.91 432.77 L26.36 432.77 L30.67 431.92 L34.12 430.22 L36.71 428.51 L38.44 426.8 M12.56 428.51 L16.01 430.22 L18.6 431.07 L22.91 431.92 L26.36 431.92 L30.67 431.07 L33.26 430.22 L36.71 428.51 M14.29 419.98 L32.4 419.98 M14.29 419.13 L32.4 419.13 M20.32 410.6 L28.95 419.13 M25.5 414.86 L32.4 409.74 M25.5 415.71 L32.4 410.6 M14.29 422.54 L14.29 419.13 M20.32 413.16 L20.32 408.04 M32.4 422.54 L32.4 416.57 M32.4 413.16 L32.4 408.04 M10.84 403.77 L12.56 402.07 L15.15 400.36 L18.6 398.65 L22.91 397.8 L26.36 397.8 L30.67 398.65 L34.12 400.36 L36.71 402.07 L38.44 403.77 M12.56 402.07 L16.01 400.36 L18.6 399.51 L22.91 398.65 L26.36 398.65 L30.67 399.51 L33.26 400.36 L36.71 402.07 M10.84 377.33 L38.44 392.68 M17.74 372.21 L18.6 371.36 L19.46 372.21 L18.6 373.06 L17.74 373.06 L16.01 372.21 L15.15 371.36 L14.29 368.8 L14.29 365.39 L15.15 362.83 L16.01 361.98 L17.74 361.12 L19.46 361.12 L21.19 361.98 L22.91 364.53 L24.64 368.8 L25.5 370.51 L27.22 372.21 L29.81 373.06 L32.4 373.06 M14.29 365.39 L15.15 363.68 L16.01 362.83 L17.74 361.98 L19.46 361.98 L21.19 362.83 L22.91 365.39 L24.64 368.8 M30.67 373.06 L29.81 372.21 L29.81 370.51 L31.54 366.24 L31.54 363.68 L30.68 361.98 L29.81 361.12 M29.81 370.51 L32.4 366.24 L32.4 362.83 L31.54 361.98 L29.81 361.12 L28.09 361.12 M21.19 350.89 L32.4 354.3 M21.19 350.89 L32.4 353.45 M21.19 345.77 L32.4 345.77 M21.19 345.77 L32.4 344.92 M22.91 356.86 L21.19 355.15 L20.32 352.59 L20.32 341.5 M22.91 356.86 L22.05 355.15 L21.19 352.59 L21.19 341.5 M15.58 337.75 L16.1 337.24 L16.62 337.75 L16.1 338.26 L15.58 338.26 L14.55 337.75 L14.03 337.24 L13.51 335.7 L13.51 333.66 L14.03 332.12 L14.55 331.61 L15.58 331.1 L16.62 331.1 L17.65 331.61 L18.69 333.14 L19.72 335.7 L20.24 336.73 L21.27 337.75 L22.83 338.26 L24.38 338.26 M13.51 333.66 L14.03 332.63 L14.55 332.12 L15.58 331.61 L16.62 331.61 L17.65 332.12 L18.69 333.66 L19.72 335.7 M23.34 338.26 L22.83 337.75 L22.83 336.73 L23.86 334.17 L23.86 332.63 L23.34 331.61 L22.83 331.1 M22.83 336.73 L24.38 334.17 L24.38 332.12 L23.86 331.61 L22.83 331.1 L21.79 331.1 M10.84 321.88 L38.44 321.88 M10.84 321.03 L38.44 321.03 M10.84 327 L10.84 321.03 M38.44 327 L38.44 321.03 M15.58 314.55 L15.06 313.52 L13.51 311.99 L24.38 311.99 M14.03 312.5 L24.38 312.5 M24.38 314.55 L24.38 309.94 M11.44 297.15 L28 306.36 M15.58 294.08 L16.1 293.56 L16.62 294.08 L16.1 294.59 L15.58 294.59 L14.55 294.08 L14.03 293.56 L13.51 292.03 L13.51 289.98 L14.03 288.45 L14.55 287.93 L15.58 287.42 L16.62 287.42 L17.65 287.93 L18.69 289.47 L19.72 292.03 L20.24 293.05 L21.27 294.08 L22.83 294.59 L24.38 294.59 M13.51 289.98 L14.03 288.96 L14.55 288.45 L15.58 287.93 L16.62 287.93 L17.65 288.45 L18.69 289.98 L19.72 292.03 M23.34 294.59 L22.83 294.08 L22.83 293.05 L23.86 290.49 L23.86 288.96 L23.34 287.93 L22.83 287.42 M22.83 293.05 L24.38 290.49 L24.38 288.45 L23.86 287.93 L22.83 287.42 L21.79 287.42 M10.84 268.83 L38.44 268.83 M10.84 267.97 L38.44 267.97 M10.84 268.83 L10.84 262.86 M38.44 268.83 L38.44 262.86 M20.33 256.03 L32.4 256.03 M20.33 255.18 L32.4 255.18 M22.91 255.18 L21.19 253.47 L20.33 250.91 L20.33 249.21 L21.19 246.65 L22.91 245.8 L32.4 245.8 M20.33 249.21 L21.19 247.5 L22.91 246.65 L32.4 246.65 M22.91 245.8 L21.19 244.09 L20.33 241.53 L20.33 239.83 L21.19 237.27 L22.91 236.41 L32.4 236.41 M20.33 239.83 L21.19 238.12 L22.91 237.27 L32.4 237.27 M20.33 258.59 L20.33 255.18 M32.4 258.59 L32.4 252.62 M32.4 249.21 L32.4 243.24 M32.4 239.83 L32.4 233.85 M14.29 227.88 L32.4 227.88 M14.29 227.03 L32.4 227.03 M14.29 215.94 L25.5 227.03 M22.05 222.77 L32.4 215.94 M22.05 223.62 L32.4 216.79 M14.29 230.44 L14.29 224.47 M14.29 219.35 L14.29 214.24 M32.4 230.44 L32.4 224.47 M32.4 219.35 L32.4 214.24 M10.84 205.71 L38.44 205.71 M10.84 204.85 L38.44 204.85 M10.84 210.82 L10.84 204.85 M38.44 210.82 L38.44 204.85" fill="none" stroke="#000" stroke-width="0.7" stroke-linecap="butt" stroke-linejoin="round"/>
<path d="M98.27 432.88 L97.42 433.74 L98.27 434.6 L99.13 433.74 L98.27 432.88Z M81.22 528.38 L80.36 529.24 L81.22 530.1 L82.07 529.24 L81.22 528.38Z M250.77 743.98 L249.92 744.84 L250.77 745.7 L251.62 744.84 L250.77 743.98Z M383.3 743.98 L382.45 744.84 L383.3 745.7 L384.15 744.84 L383.3 743.98Z" fill="#000" stroke="#000" stroke-width="0.7" stroke-linejoin="round"/>
<path d="M327.02 172.14 L328.72 171.28 L331.28 168.69 L331.28 186.8 M330.43 169.55 L330.43 186.8 M327.02 186.8 L334.69 186.8 M344.08 172.14 L345.78 171.28 L348.34 168.69 L348.34 186.8 M347.49 169.55 L347.49 186.8 M344.08 186.8 L351.75 186.8 M372.23 168.69 L369.67 169.55 L367.96 172.14 L367.11 176.45 L367.11 179.04 L367.96 183.35 L369.67 185.94 L372.23 186.8 L373.93 186.8 L376.49 185.94 L378.2 183.35 L379.05 179.04 L379.05 176.45 L378.2 172.14 L376.49 169.55 L373.93 168.69 L372.23 168.69 M372.23 168.69 L370.52 169.55 L369.67 170.41 L368.81 172.14 L367.96 176.45 L367.96 179.04 L368.81 183.35 L369.67 185.08 L370.52 185.94 L372.23 186.8 M373.93 186.8 L375.64 185.94 L376.49 185.08 L377.34 183.35 L378.2 179.04 L378.2 176.45 L377.34 172.14 L376.49 170.41 L375.64 169.55 L373.93 168.69 M385.88 168.69 L384.17 177.31 M384.17 177.31 L385.88 175.59 L388.43 174.73 L390.99 174.73 L393.55 175.59 L395.26 177.31 L396.11 179.9 L396.11 181.62 L395.26 184.21 L393.55 185.94 L390.99 186.8 L388.43 186.8 L385.88 185.94 L385.02 185.08 L384.17 183.35 L384.17 182.49 L385.02 181.62 L385.88 182.49 L385.02 183.35 M390.99 174.73 L392.7 175.59 L394.4 177.31 L395.26 179.9 L395.26 181.62 L394.4 184.21 L392.7 185.94 L390.99 186.8 M385.88 168.69 L394.4 168.69 M385.88 169.55 L390.14 169.55 L394.4 168.69" fill="none" stroke="#f0f" stroke-width="1.65" stroke-linecap="round" stroke-linejoin="round"/>
<path d="M360.28 185.08 L359.43 185.94 L360.28 186.8 L361.14 185.94 L360.28 185.08Z" fill="#f0f" stroke="#f0f" stroke-width="1.65" stroke-linejoin="round"/>
<path d="M512.87 171.89 L514.57 171.03 L517.13 168.44 L517.13 186.55 M516.28 169.3 L516.28 186.55 M512.87 186.55 L520.54 186.55 M527.37 168.44 L527.37 173.61 M527.37 171.89 L528.22 170.16 L529.93 168.44 L531.63 168.44 L535.9 171.03 L537.61 171.03 L538.46 170.16 L539.31 168.44 M528.22 170.16 L529.93 169.3 L531.63 169.3 L535.9 171.03 M539.31 168.44 L539.31 171.03 L538.46 173.61 L535.05 177.93 L534.19 179.65 L533.34 182.24 L533.34 186.55 M538.46 173.61 L534.19 177.93 L533.34 179.65 L532.49 182.24 L532.49 186.55" fill="none" stroke="#0f0" stroke-width="1.65" stroke-linecap="round" stroke-linejoin="round"/>
<path d="M398.96 267.34 L399.81 268.2 L398.96 269.06 L398.11 268.2 L398.11 267.34 L398.96 265.61 L399.81 264.75 L402.37 263.89 L405.79 263.89 L408.35 264.75 L409.2 265.61 L410.05 267.34 L410.05 269.06 L409.2 270.79 L406.64 272.51 L402.37 274.24 L400.67 275.1 L398.96 276.82 L398.11 279.41 L398.11 282 M405.79 263.89 L407.49 264.75 L408.35 265.61 L409.2 267.34 L409.2 269.06 L408.35 270.79 L405.79 272.51 L402.37 274.24 M398.11 280.27 L398.96 279.41 L400.67 279.41 L404.93 281.14 L407.49 281.14 L409.2 280.27 L410.05 279.41 M400.67 279.41 L404.93 282 L408.35 282 L409.2 281.14 L410.05 279.41 L410.05 277.69 M420.29 263.89 L417.73 264.75 L416.02 267.34 L415.17 271.65 L415.17 274.24 L416.02 278.55 L417.73 281.14 L420.29 282 L421.99 282 L424.55 281.14 L426.26 278.55 L427.11 274.24 L427.11 271.65 L426.26 267.34 L424.55 264.75 L421.99 263.89 L420.29 263.89 M420.29 263.89 L418.58 264.75 L417.73 265.61 L416.88 267.34 L416.02 271.65 L416.02 274.24 L416.88 278.55 L417.73 280.27 L418.58 281.14 L420.29 282 M421.99 282 L423.7 281.14 L424.55 280.27 L425.41 278.55 L426.26 274.24 L426.26 271.65 L425.41 267.34 L424.55 265.61 L423.7 264.75 L421.99 263.89 M442.47 263.89 L440.76 272.51 M440.76 272.51 L442.47 270.79 L445.02 269.93 L447.58 269.93 L450.14 270.79 L451.85 272.51 L452.7 275.1 L452.7 276.82 L451.85 279.41 L450.14 281.14 L447.58 282 L445.02 282 L442.47 281.14 L441.61 280.27 L440.76 278.55 L440.76 277.69 L441.61 276.82 L442.47 277.69 L441.61 278.55 M447.58 269.93 L449.29 270.79 L451 272.51 L451.85 275.1 L451.85 276.82 L451 279.41 L449.29 281.14 L447.58 282 M442.47 263.89 L451 263.89 M442.47 264.75 L446.73 264.75 L451 263.89" fill="none" stroke="#00f" stroke-width="1.65" stroke-linecap="round" stroke-linejoin="round"/>
<path d="M433.94 280.27 L433.08 281.14 L433.94 282 L434.79 281.14 L433.94 280.27Z" fill="#00f" stroke="#00f" stroke-width="1.65" stroke-linejoin="round"/>
<path d="M485.71 344.14 L486.56 345 L485.71 345.86 L484.86 345 L484.86 344.14 L485.71 342.41 L486.56 341.55 L489.12 340.69 L492.54 340.69 L495.1 341.55 L495.95 342.41 L496.8 344.14 L496.8 345.86 L495.95 347.59 L493.39 349.31 L489.12 351.04 L487.42 351.9 L485.71 353.62 L484.86 356.21 L484.86 358.8 M492.54 340.69 L494.24 341.55 L495.1 342.41 L495.95 344.14 L495.95 345.86 L495.1 347.59 L492.54 349.31 L489.12 351.04 M484.86 357.07 L485.71 356.21 L487.42 356.21 L491.68 357.94 L494.24 357.94 L495.95 357.07 L496.8 356.21 M487.42 356.21 L491.68 358.8 L495.1 358.8 L495.95 357.94 L496.8 356.21 L496.8 354.49 M502.77 344.14 L503.62 345 L502.77 345.86 L501.92 345 L501.92 344.14 L502.77 342.41 L503.62 341.55 L506.18 340.69 L509.6 340.69 L512.15 341.55 L513.01 343.28 L513.01 345.86 L512.15 347.59 L509.6 348.45 L507.04 348.45 M509.6 340.69 L511.3 341.55 L512.15 343.28 L512.15 345.86 L511.3 347.59 L509.6 348.45 M509.6 348.45 L511.3 349.31 L513.01 351.04 L513.86 352.76 L513.86 355.35 L513.01 357.07 L512.15 357.94 L509.6 358.8 L506.18 358.8 L503.62 357.94 L502.77 357.07 L501.92 355.35 L501.92 354.49 L502.77 353.62 L503.62 354.49 L502.77 355.35 M512.15 350.18 L513.01 352.76 L513.01 355.35 L512.15 357.07 L511.3 357.94 L509.6 358.8 M528.36 344.14 L529.22 345 L528.36 345.86 L527.51 345 L527.51 344.14 L528.36 342.41 L529.22 341.55 L531.77 340.69 L535.19 340.69 L537.75 341.55 L538.6 343.28 L538.6 345.86 L537.75 347.59 L535.19 348.45 L532.63 348.45 M535.19 340.69 L536.89 341.55 L537.75 343.28 L537.75 345.86 L536.89 347.59 L535.19 348.45 M535.19 348.45 L536.89 349.31 L538.6 351.04 L539.45 352.76 L539.45 355.35 L538.6 357.07 L537.75 357.94 L535.19 358.8 L531.77 358.8 L529.22 357.94 L528.36 357.07 L527.51 355.35 L527.51 354.49 L528.36 353.62 L529.22 354.49 L528.36 355.35 M537.75 350.18 L538.6 352.76 L538.6 355.35 L537.75 357.07 L536.89 357.94 L535.19 358.8 M546.27 340.69 L544.57 349.31 M544.57 349.31 L546.27 347.59 L548.83 346.73 L551.39 346.73 L553.95 347.59 L555.66 349.31 L556.51 351.9 L556.51 353.62 L555.66 356.21 L553.95 357.94 L551.39 358.8 L548.83 358.8 L546.27 357.94 L545.42 357.07 L544.57 355.35 L544.57 354.49 L545.42 353.62 L546.27 354.49 L545.42 355.35 M551.39 346.73 L553.1 347.59 L554.81 349.31 L555.66 351.9 L555.66 353.62 L554.81 356.21 L553.1 357.94 L551.39 358.8 M546.27 340.69 L554.81 340.69 M546.27 341.55 L550.54 341.55 L554.81 340.69" fill="none" stroke="#f00" stroke-width="1.65" stroke-linecap="round" stroke-linejoin="round"/>
<path d="M520.69 357.07 L519.83 357.94 L520.69 358.8 L521.54 357.94 L520.69 357.07Z" fill="#f00" stroke="#f00" stroke-width="1.65" stroke-linejoin="round"/>
<path d="M523.41 410.54 L524.26 411.4 L523.41 412.26 L522.56 411.4 L522.56 410.54 L523.41 408.81 L524.26 407.95 L526.82 407.09 L530.24 407.09 L532.79 407.95 L533.65 408.81 L534.5 410.54 L534.5 412.26 L533.65 413.99 L531.09 415.71 L526.82 417.44 L525.12 418.3 L523.41 420.02 L522.56 422.61 L522.56 425.2 M530.24 407.09 L531.94 407.95 L532.79 408.81 L533.65 410.54 L533.65 412.26 L532.79 413.99 L530.24 415.71 L526.82 417.44 M522.56 423.47 L523.41 422.61 L525.12 422.61 L529.38 424.34 L531.94 424.34 L533.65 423.47 L534.5 422.61 M525.12 422.61 L529.38 425.2 L532.79 425.2 L533.65 424.34 L534.5 422.61 L534.5 420.89 M541.33 407.09 L539.62 415.71 M539.62 415.71 L541.33 413.99 L543.88 413.12 L546.44 413.12 L549 413.99 L550.71 415.71 L551.56 418.3 L551.56 420.02 L550.71 422.61 L549 424.34 L546.44 425.2 L543.88 425.2 L541.33 424.34 L540.47 423.47 L539.62 421.75 L539.62 420.89 L540.47 420.02 L541.33 420.89 L540.47 421.75 M546.44 413.12 L548.15 413.99 L549.86 415.71 L550.71 418.3 L550.71 420.02 L549.86 422.61 L548.15 424.34 L546.44 425.2 M541.33 407.09 L549.86 407.09 M541.33 407.95 L545.59 407.95 L549.86 407.09 M569.47 407.09 L566.91 407.95 L566.06 409.68 L566.06 412.26 L566.91 413.99 L569.47 414.85 L572.89 414.85 L575.45 413.99 L576.3 412.26 L576.3 409.68 L575.45 407.95 L572.89 407.09 L569.47 407.09 M569.47 407.09 L567.77 407.95 L566.91 409.68 L566.91 412.26 L567.77 413.99 L569.47 414.85 M572.89 414.85 L574.59 413.99 L575.45 412.26 L575.45 409.68 L574.59 407.95 L572.89 407.09 M569.47 414.85 L566.91 415.71 L566.06 416.57 L565.21 418.3 L565.21 421.75 L566.06 423.47 L566.91 424.34 L569.47 425.2 L572.89 425.2 L575.45 424.34 L576.3 423.47 L577.15 421.75 L577.15 418.3 L576.3 416.57 L575.45 415.71 L572.89 414.85 M569.47 414.85 L567.77 415.71 L566.91 416.57 L566.06 418.3 L566.06 421.75 L566.91 423.47 L567.77 424.34 L569.47 425.2 M572.89 425.2 L574.59 424.34 L575.45 423.47 L576.3 421.75 L576.3 418.3 L575.45 416.57 L574.59 415.71 L572.89 414.85" fill="none" stroke="#000" stroke-width="1.65" stroke-linecap="round" stroke-linejoin="round"/>
<path d="M558.38 423.47 L557.53 424.34 L558.38 425.2 L559.24 424.34 L558.38 423.47Z" fill="#000" stroke="#000" stroke-width="1.65" stroke-linejoin="round"/>
</svg>
</body></html>
